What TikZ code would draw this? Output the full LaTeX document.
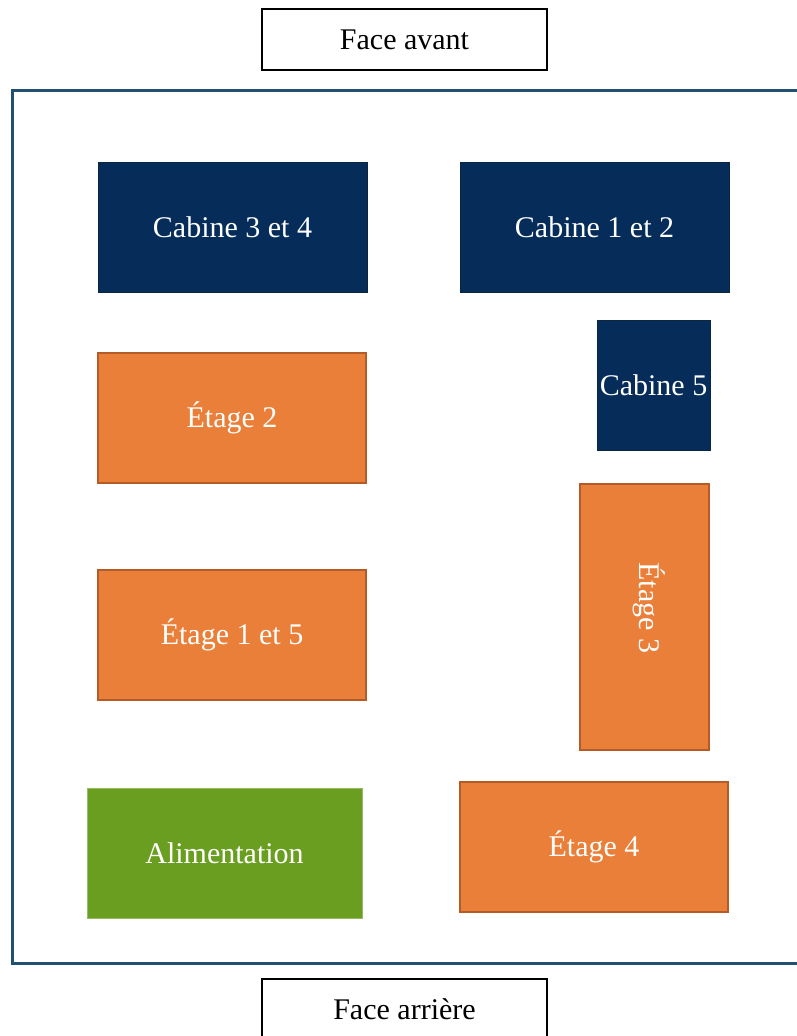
\documentclass[tikz,border=0pt]{standalone}
\usepackage{fontspec}
\setmainfont{Liberation Serif}
\definecolor{cabblue}{HTML}{062D5A}
\definecolor{cabline}{HTML}{0B2740}
\definecolor{etorange}{HTML}{EA7F39}
\definecolor{etline}{HTML}{B45C27}
\definecolor{alimgreen}{HTML}{6A9E20}
\definecolor{framecol}{HTML}{215071}
\tikzset{
  facebox/.style={draw=black, line width=2pt, fill=white, minimum width=285pt, minimum height=61pt},
  cabbox/.style={draw=cabline, line width=1pt, fill=cabblue, text=white},
  etbox/.style={draw=etline, line width=2pt, fill=etorange, text=white},
  alimbox/.style={draw=alimgreen!70!white, line width=0.8pt, fill=alimgreen, text=white}
}
\begin{document}
\begin{tikzpicture}[x=1pt, y=-1pt, every node/.style={rectangle, align=center, inner sep=0pt, font=\fontsize{30}{36}\selectfont}]
    \useasboundingbox (0,0) rectangle (796,1036);
    % Frame
    \draw [framecol, line width=3pt] (810,90) -- (12,90) -- (12,963) -- (810,963);

    % Faces
    \node (avant) [facebox] at (404.5,39.5) {Face avant};
    \node (arriere) [facebox, minimum height=60pt] at (404.5,1009) {Face arrière};

    % Cabines
    \node (cab34) [cabbox, minimum width=269pt, minimum height=130pt] at (232.5,227) {Cabine 3 et 4};
    \node (cab12) [cabbox, minimum width=269pt, minimum height=130pt] at (594.5,227) {Cabine 1 et 2};
    \node (cab5) [cabbox, minimum width=113pt, minimum height=130pt] at (653.5,385) {Cabine 5};

    % Etages
    \node (et2) [etbox, minimum width=268pt, minimum height=130pt] at (232,418) {Étage 2};
    \node (et15) [etbox, minimum width=268pt, minimum height=130pt] at (232,635) {Étage 1 et 5};
    \node (et3) [etbox, minimum width=129pt, minimum height=266pt] at (644.5,617) {};
    \node (et3txt) [rotate=-90, text=white] at (649,608) {Étage 3};
    \node (et4) [etbox, minimum width=268pt, minimum height=130pt] at (594,847) {Étage 4};

    % Alimentation
    \node (alim) [alimbox, minimum width=275pt, minimum height=130pt] at (224.5,853) {Alimentation};
\end{tikzpicture}
\end{document}
